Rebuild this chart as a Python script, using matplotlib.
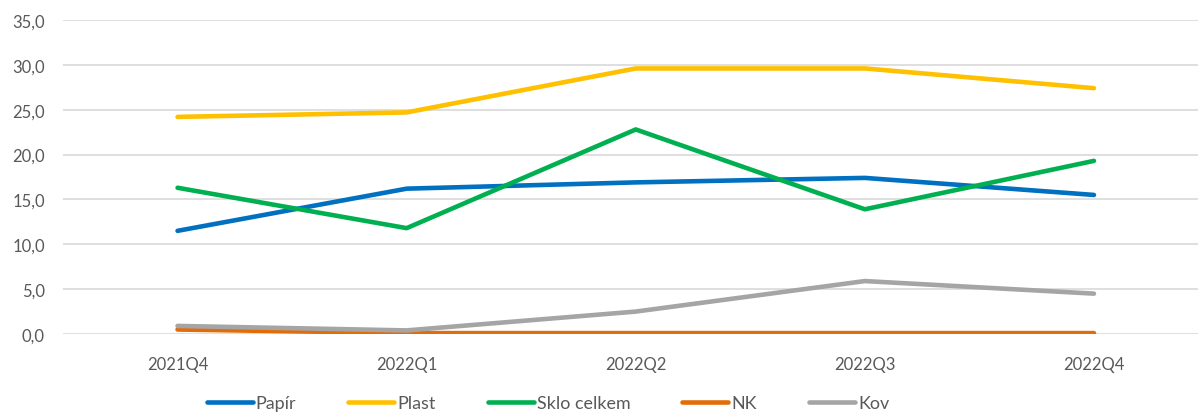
import matplotlib
matplotlib.use("Agg")
import matplotlib.pyplot as plt
from matplotlib.ticker import FuncFormatter, MultipleLocator

categories = ["2021Q4", "2022Q1", "2022Q2", "2022Q3", "2022Q4"]
papir = [11.5, 16.2, 16.9, 17.4, 15.5]
plast = [24.2, 24.7, 29.6, 29.6, 27.4]
sklo = [16.3, 11.8, 22.8, 13.9, 19.3]
nk = [0.5, 0.1, 0.1, 0.1, 0.1]
kov = [0.9, 0.4, 2.5, 5.9, 4.5]

series = [
    ("Papír", papir, "#0070C0"),
    ("Plast", plast, "#FFC000"),
    ("Sklo celkem", sklo, "#00B050"),
    ("NK", nk, "#E36C0A"),
    ("Kov", kov, "#A5A5A5"),
]

plt.rcParams['font.family'] = ['Lato', 'DejaVu Sans']
txt = "#595959"

fig = plt.figure(figsize=(11.98, 4.14), dpi=100)
ax = fig.add_axes([63/1198, 79/414, 1145.5/1198, 314/414])
x = list(range(len(categories)))
for name, vals, col in series:
    ax.plot(x, vals, color=col, lw=3.3, solid_capstyle='round', label=name, zorder=3)

ax.set_xlim(-0.5, 4.5)
ax.set_ylim(0, 35)
ax.yaxis.set_major_locator(MultipleLocator(5))
ax.yaxis.set_major_formatter(FuncFormatter(lambda v, p: f"{v:.1f}".replace(".", ",")))
ax.set_xticks(x)
ax.set_xticklabels(categories)
ax.grid(axis='y', color="#D9D9D9", lw=1.2, zorder=0)
for s in ax.spines.values():
    s.set_visible(False)
ax.tick_params(axis='both', length=0, labelsize=12, colors=txt)
ax.tick_params(axis='y', pad=13)
ax.tick_params(axis='x', pad=16)

fig.legend(loc='center', bbox_to_anchor=(548/1198, 9.5/414), ncol=5, frameon=False,
           fontsize=12.9, labelcolor=txt, handlelength=2.57, handletextpad=0.17,
           columnspacing=2.9)

fig.savefig("out.png", dpi=100)
